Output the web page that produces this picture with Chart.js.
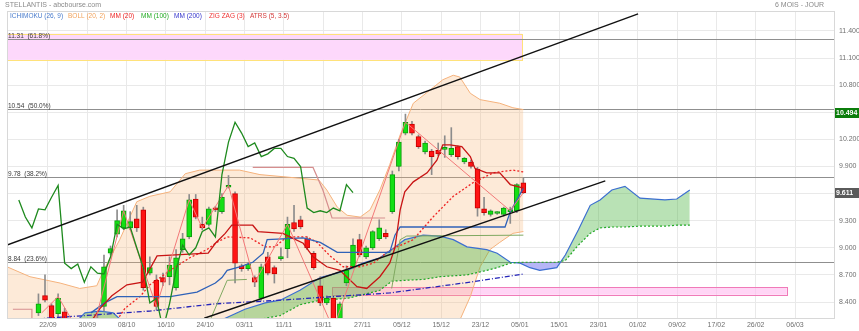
<!DOCTYPE html>
<html>
<head>
<meta charset="utf-8">
<script src="https://cdn.jsdelivr.net/npm/chart.js@4.4.1/dist/chart.umd.min.js"></script>
<style>html,body{margin:0;padding:0;background:#fff}</style>
</head>
<body>
<canvas id="stellantis" width="859" height="331"></canvas>
<script>
// x = trading day index, day 0 is 22/09
var dateTicks = ['22/09','30/09','08/10','16/10','24/10','03/11','11/11','19/11','27/11','05/12','15/12','23/12','05/01','15/01','23/01','01/02','09/02','17/02','26/02','06/03'];
var priceTicks = [8.4, 8.7, 9.0, 9.3, 9.6, 9.9, 10.2, 10.5, 10.8, 11.1, 11.4];
var firstDay = -2;

var open = [8.28,8.47,8.36,8.27,8.29,8.10,8.00,7.95,8.05,8.10,
  8.35,8.94,9.15,9.22,9.22,9.32,9.42,8.72,8.64,8.67,
  8.68,8.56,8.98,9.12,9.54,9.26,9.26,9.44,9.40,9.67,
  9.60,8.80,8.77,8.67,8.44,8.90,8.78,8.88,8.99,9.28,
  9.31,9.10,8.94,8.58,8.39,8.44,8.10,8.61,8.79,9.09,
  8.90,9.00,9.10,9.16,9.40,9.90,10.27,10.37,10.23,10.06,
  10.07,10.08,10.09,10.03,10.12,9.95,9.95,9.87,9.43,9.37,
  9.38,9.37,9.40,9.41,9.72];
var high = [8.49,8.70,8.38,8.49,8.33,8.15,8.08,8.10,8.15,8.25,
  8.92,9.02,9.42,9.47,9.40,9.47,9.45,8.90,8.70,8.72,
  8.90,8.98,9.16,9.59,9.59,9.34,9.45,9.46,9.60,9.80,
  9.62,8.82,8.84,8.69,8.82,8.95,8.80,9.00,9.34,9.47,
  9.35,9.12,8.96,8.68,8.47,8.47,8.40,8.80,9.10,9.15,
  9.02,9.19,9.31,9.20,9.85,10.20,10.48,10.40,10.25,10.18,
  10.09,10.16,10.24,10.33,10.13,10.00,9.97,9.89,9.56,9.42,
  9.40,9.45,9.45,9.71,9.77];
var low = [8.25,8.40,8.15,8.22,8.05,7.95,7.90,7.92,8.00,8.05,
  8.30,8.92,9.12,9.20,9.20,9.18,8.53,8.70,8.31,8.58,
  8.59,8.53,8.95,9.10,9.32,9.20,9.24,9.40,9.38,9.66,
  8.61,8.74,8.75,8.57,8.42,8.70,8.61,8.86,8.89,9.18,
  9.21,8.98,8.76,8.36,8.37,8.05,8.02,8.58,8.77,8.90,
  8.88,8.98,9.08,9.10,9.38,9.85,10.25,10.25,10.10,10.04,
  9.81,10.02,10.00,10.01,9.98,9.93,9.88,9.35,9.36,9.35,
  9.37,9.35,9.27,9.39,9.60];
var close = [8.38,8.42,8.20,8.44,8.10,8.00,7.95,8.05,8.10,8.20,
  8.79,8.99,9.30,9.41,9.29,9.22,8.56,8.78,8.35,8.62,
  8.81,8.89,9.10,9.53,9.34,9.22,9.43,9.42,9.56,9.69,
  8.83,8.77,8.82,8.62,8.79,8.72,8.71,8.90,9.26,9.21,
  9.23,9.00,8.78,8.39,8.44,8.10,8.38,8.75,9.03,8.92,
  9.00,9.18,9.22,9.12,9.81,10.17,10.39,10.27,10.12,10.16,
  10.01,10.04,10.10,10.10,10.01,9.99,9.90,9.44,9.39,9.41,
  9.39,9.44,9.41,9.70,9.611];

// bollinger (20, 2)
var bollDays = [-6.8,-3.3,1.3,4.3,6.9,7.8,10.4,13,15,18.1,20.4,22.6,28.7,31.8,36.4,40.8,42,43.6,45.1,47.1,48.6,50.1,51.6,53.2,55.2,57.3,59.7,61.3,62.3,63.9,65.4,66.9,68.4,70.4,72];
var bollUpper = [8.79,8.68,8.61,8.55,8.58,8.73,9.09,9.51,9.57,9.62,9.82,9.86,9.86,9.81,9.78,9.75,9.64,9.45,9.36,9.34,9.42,9.64,9.92,10.25,10.60,10.72,10.86,10.91,10.89,10.71,10.64,10.62,10.60,10.55,10.53];
var bollLower = [7.98,7.98,7.97,7.96,7.96,7.97,7.99,8.01,8.03,8.05,8.06,8.07,8.08,8.06,8.05,8.04,8.03,8.02,8.02,8.02,8.03,8.04,8.04,8.03,8.02,8.02,8.05,8.12,8.20,8.46,8.79,8.98,9.06,9.16,9.18];

// ichimoku (26, 9)
var cloudDays = [4,5.1,7.4,9.4,10.9,22.6,26.5,29.5,32.6,34.9,37.9,41,45.1,47.5,50.1,51.9,53.9,56.7,59.3,61.3,63.4,66.4,68,70,71.5,73,74.5,77.1,78.4,80.4,82.2,83.7,85.5,87.5,89.8,93.6,95.4,97.4];
var senkouA = [8.20,8.28,8.30,8.28,8.18,8.09,8.22,8.32,8.39,8.42,8.53,8.67,8.75,8.83,8.89,8.98,9.09,9.14,9.13,9.09,9.01,8.98,8.94,8.84,8.83,8.78,8.75,8.78,8.92,9.20,9.47,9.53,9.64,9.68,9.55,9.53,9.54,9.64];
var senkouB = [8.09,8.09,8.09,8.09,8.07,8.03,8.09,8.15,8.22,8.25,8.37,8.42,8.44,8.48,8.53,8.63,8.64,8.65,8.68,8.69,8.70,8.75,8.78,8.83,8.84,8.84,8.84,8.84,8.86,9.03,9.16,9.22,9.23,9.23,9.24,9.24,9.25,9.25];
var tenkan = [[6,8.18],[7.4,8.33],[9.2,8.47],[11.5,8.59],[13.9,8.62],[16.1,8.91],[23.9,8.94],[25,9.05],[26.5,9.16],[27.5,9.25],[30.7,9.25],[31.5,9.18],[35.3,9.16],[36.7,9.11],[38.4,9.05],[39.9,8.90],[42,8.79],[44,8.75],[46.6,8.57],[48.1,8.55],[50.1,8.68],[51.6,8.83],[52.4,9.00],[53.2,9.42],[53.9,9.62],[55.2,9.73],[57.3,9.83],[58.8,9.97],[59.7,10.14],[60.8,10.14],[62.6,10.12],[63.9,10.01],[64.6,9.88],[66.4,9.83],[68.4,9.83],[70,9.70],[72,9.66]];
var kijun = [[6,8.28],[8.1,8.39],[10,8.46],[18.1,8.46],[22.2,8.51],[25,8.61],[26,8.67],[26.8,8.75],[28.7,8.79],[30.7,8.84],[32.3,8.94],[32.9,9.09],[38.4,9.11],[41,9.06],[43.6,8.95],[51.6,8.95],[52.4,9.14],[53.2,9.23],[69.2,9.23],[70,9.40],[72,9.66]];

var mm20 = [[10,8.20],[11.2,8.33],[13.5,8.46],[15,8.59],[18.1,8.75],[21.1,8.89],[23.7,8.98],[25.2,9.06],[26.8,9.12],[30.3,9.11],[32.6,9.01],[34.1,9.01],[35.9,9.12],[39,9.12],[40.5,9.06],[42.5,8.91],[44.5,8.79],[47.1,8.79],[49.1,8.83],[51.2,8.95],[52.7,9.01],[55.2,9.09],[58.2,9.34],[61.3,9.57],[64.3,9.72],[67.4,9.83],[70.4,9.86],[72,9.84]];
var mm200 = [[-6.8,8.19],[15,8.30],[25,8.38],[34.9,8.42],[43,8.46],[51.6,8.50],[63.9,8.62],[72,8.71]];
var zigzag = [[-1.5,8.28],[1,8.46],[3.1,8.20],[6,8.00],[11,9.41],[16,8.35],[21,9.53],[23,9.22],[27,9.69],[31,8.62],[36,9.26],[43,8.10],[54,10.39],[70,9.41],[72,9.61]];
var atrsDown = [[[-5.9,8.32],[-3,8.32],[-3,8.10]], [[30.7,9.89],[39.9,9.89],[41.4,9.64],[42.8,9.33],[50.9,9.33]]];
var atrsUp = [[[24.2,8.20],[26.8,8.64],[29.8,8.65]], [[51.9,8.55],[53.2,9.09],[54.2,9.13],[72,9.14]]];

var trendUpper = [[-6.8,9.03],[89.5,11.59]];
var trendLower = [[23.3,8.22],[84.5,9.74]];

var fibLevels = [11.31, 10.54, 9.78, 8.84];
var fibPct = ['61.8%', '50.0%', '38.2%', '23.6%'];
var zoneFrom = [-6.8, 42.8], zoneTo = [71.8, 112.2];
var zoneTop = [11.37, 8.566], zoneBottom = [11.08, 8.48];
var tagValues = [10.494, 9.611];

var legendNames = ['ICHIMOKU (26, 9)', 'BOLL (20, 2)', 'MM (20)', 'MM (100)', 'MM (200)', 'ZIG ZAG (3)', 'ATRS (5, 3.5)'];
var legendColors = ['#4a7ccc', '#f2a35c', '#ee2222', '#22aa22', '#3333cc', '#ee3333', '#d33a3a'];
var legendX = [10, 68, 110, 141, 174, 209, 250];

var FONT = '"Liberation Sans", Arial, sans-serif';

function pts(list) { return list.map(function (p) { return {x: p[0], y: p[1]}; }); }
function line(data, color, width, order, dash) {
  return {type: 'line', data: data, borderColor: color, borderWidth: width, borderDash: dash || [],
    pointRadius: 0, tension: 0, fill: false, order: order};
}

var days = close.map(function (c, k) { return firstDay + k; });
var chikou = close.slice(21 - firstDay).map(function (c, k) { return {x: 21 + k - 26, y: c}; });

var datasets = [
  line(pts(trendUpper), '#111', 1.4, 1),
  line(pts(trendLower), '#111', 1.4, 1),
  line(chikou, '#1e8a1e', 1.3, 2),
  line(pts(zigzag), '#f27878', 1, 3),
  line(pts(tenkan), '#c81414', 1.3, 5),
  line(pts(kijun), '#2f62b8', 1.3, 6),
  line(pts(mm20), '#ee2222', 1.3, 7, [2, 2]),
  line(pts(mm200), '#2424b8', 1.3, 8, [5, 2, 1, 2]),
  {type: 'bar', data: days.map(function (d, k) { return {x: d, y: [open[k], close[k]]}; }),
    backgroundColor: function (c) { return close[c.dataIndex] >= open[c.dataIndex] ? '#14e014' : '#ff1414'; },
    borderColor: function (c) { return close[c.dataIndex] >= open[c.dataIndex] ? '#0b9e0b' : '#c40000'; },
    borderWidth: 1, borderSkipped: false, barThickness: 5, minBarLength: 2, grouped: false, order: 20},
  {type: 'bar', data: days.map(function (d, k) { return {x: d, y: [low[k], high[k]]}; }),
    backgroundColor: '#8c8c8c', borderWidth: 0, barThickness: 1, grouped: false, order: 21},
  {type: 'line', data: cloudDays.map(function (d, k) { return {x: d, y: senkouA[k]}; }),
    borderColor: '#3c6fd0', borderWidth: 1.2, pointRadius: 0, tension: 0, order: 30,
    fill: {target: '+1', above: 'rgba(70,180,60,0.38)', below: 'rgba(110,110,240,0.5)'}},
  line(cloudDays.map(function (d, k) { return {x: d, y: senkouB[k]}; }), '#22aa22', 1.2, 29, [2, 2]),
  {type: 'line', data: bollDays.map(function (d, k) { return {x: d, y: bollUpper[k]}; }),
    borderColor: '#f5b27c', borderWidth: 1, pointRadius: 0, tension: 0, order: 41,
    fill: '+1', backgroundColor: 'rgba(248,180,115,0.28)'},
  line(bollDays.map(function (d, k) { return {x: d, y: bollLower[k]}; }), '#f5b27c', 1, 40)
];
atrsDown.forEach(function (seg) { datasets.push(line(pts(seg), '#d68e8e', 1.2, 4)); });
atrsUp.forEach(function (seg) { datasets.push(line(pts(seg), '#7fa860', 1, 4)); });

var overlay = {
  id: 'overlay',
  beforeDatasetsDraw: function (chart) {
    var c = chart.ctx, sx = chart.scales.x, sy = chart.scales.y, a = chart.chartArea;
    c.save();
    c.beginPath(); c.rect(a.left, a.top, a.right - a.left, a.bottom - a.top); c.clip();
    // zones
    for (var i = 0; i < zoneFrom.length; i++) {
      var x0 = sx.getPixelForValue(zoneFrom[i]), x1 = sx.getPixelForValue(zoneTo[i]);
      var y0 = sy.getPixelForValue(zoneTop[i]), y1 = sy.getPixelForValue(zoneBottom[i]);
      c.fillStyle = i == 0 ? '#fdd8fb' : 'rgba(255,190,240,0.65)';
      c.fillRect(x0, y0, x1 - x0, y1 - y0);
      c.strokeStyle = i == 0 ? '#ffe27a' : '#f07ab8';
      c.lineWidth = 1;
      c.strokeRect(Math.round(x0) + 0.5, Math.round(y0) + 0.5, Math.round(x1 - x0), Math.round(y1 - y0));
    }
    // fibonacci retracements
    c.font = '6.5px ' + FONT;
    c.textBaseline = 'bottom';
    fibLevels.forEach(function (v, k) {
      var y = Math.round(sy.getPixelForValue(v)) + 0.5;
      c.strokeStyle = '#8f8f8f'; c.lineWidth = 1;
      c.beginPath(); c.moveTo(a.left, y); c.lineTo(a.right, y); c.stroke();
      c.fillStyle = '#3a3a3a';
      c.fillText(v.toFixed(2) + '  (' + fibPct[k] + ')', a.left + 1, y - 0.5);
    });
    c.restore();
  },
  afterDraw: function (chart) {
    var c = chart.ctx, sy = chart.scales.y, a = chart.chartArea;
    c.save();
    c.strokeStyle = '#d8d8d8'; c.lineWidth = 1;
    c.strokeRect(a.left + 0.5, a.top + 0.5, a.right - a.left, a.bottom - a.top);
    c.font = '7px ' + FONT;
    c.textBaseline = 'middle';
    c.fillStyle = '#8a8a8a';
    c.fillText('STELLANTIS - abcbourse.com', 5, 5);
    c.textAlign = 'right';
    c.fillText('6 MOIS - JOUR', 824, 5);
    c.textAlign = 'left';
    c.font = '6.5px ' + FONT;
    legendNames.forEach(function (n, k) {
      c.fillStyle = legendColors[k];
      c.fillText(n, legendX[k], 16);
    });
    // last value tags
    c.font = 'bold 7px ' + FONT;
    tagValues.forEach(function (v, k) {
      var y = Math.round(sy.getPixelForValue(v));
      c.fillStyle = k == 0 ? '#0b7d0b' : '#5a5a5a';
      c.fillRect(a.right + 1, y - 5, 24, 10);
      c.fillStyle = '#fff';
      c.fillText(v.toFixed(3), a.right + 2, y);
    });
    c.restore();
  }
};

Chart.defaults.font.family = FONT;
Chart.defaults.font.size = 7;
Chart.defaults.color = '#6b6b6b';

new Chart(document.getElementById('stellantis'), {
  type: 'line',
  data: {datasets: datasets},
  options: {
    responsive: false,
    animation: false,
    devicePixelRatio: 1,
    layout: {padding: {left: 7, top: 11, right: 0, bottom: 0}},
    plugins: {legend: {display: false}, tooltip: {enabled: false}},
    scales: {
      x: {
        type: 'linear', min: -6.8, max: 119.4, offset: false,
        afterBuildTicks: function (s) { s.ticks = dateTicks.map(function (t, k) { return {value: -0.55 + 6 * k}; }); },
        afterFit: function (s) { s.height = 13; },
        ticks: {callback: function (v, k) { return dateTicks[k]; }, autoSkip: false, maxRotation: 0, padding: 3, color: '#707070'},
        grid: {color: '#e9e9e9', drawTicks: false, offset: false},
        border: {color: '#d0d0d0'}
      },
      y: {
        position: 'right', min: 8.223, max: 11.621,
        afterBuildTicks: function (s) { s.ticks = priceTicks.map(function (v) { return {value: v}; }); },
        afterFit: function (s) { s.width = 25; },
        ticks: {callback: function (v) { return v.toFixed(3); }, padding: 5, color: '#707070'},
        grid: {color: '#e9e9e9', drawTicks: false},
        border: {color: '#d0d0d0'}
      }
    }
  },
  plugins: [overlay]
});
</script>
</body>
</html>
